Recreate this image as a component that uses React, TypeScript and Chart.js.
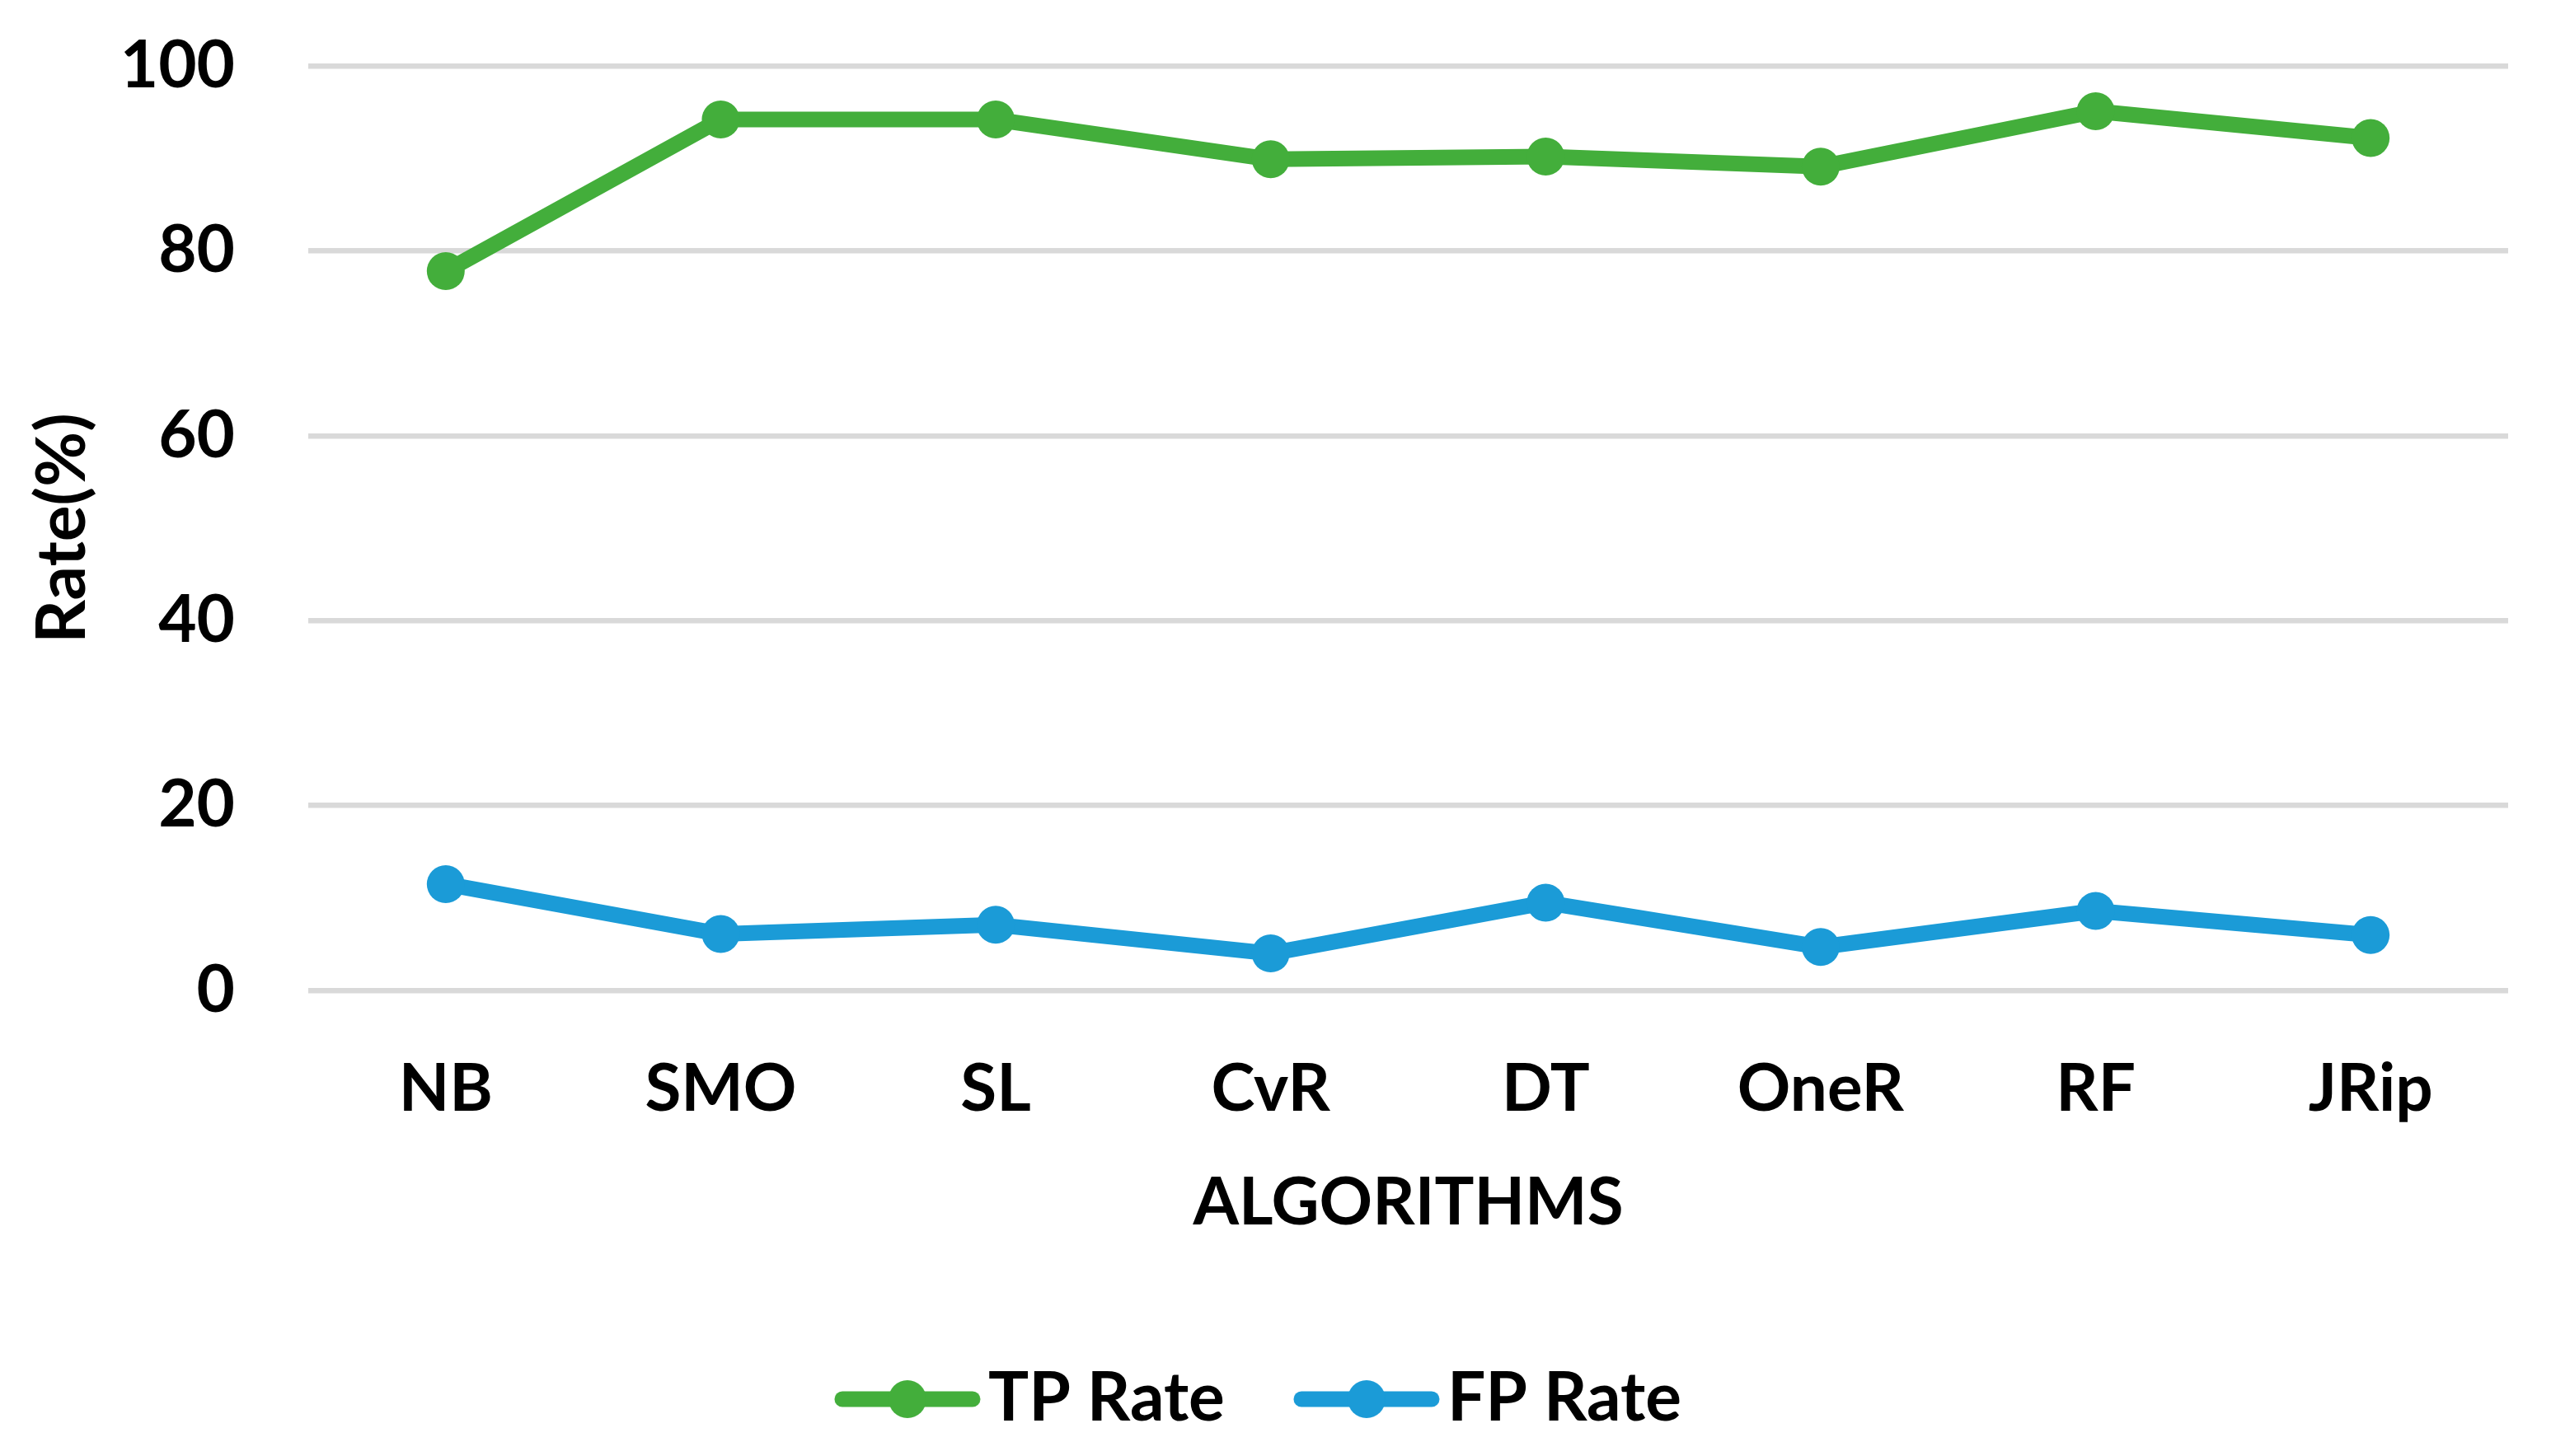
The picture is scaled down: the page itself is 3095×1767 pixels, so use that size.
import React, { useEffect, useRef } from "react";
import { Chart, registerables } from "chart.js";

Chart.register(...registerables);

const categories = ["NB", "SMO", "SL", "CvR", "DT", "OneR", "RF", "JRip"];
const tpRate = [77.8, 94.2, 94.2, 89.9, 90.2, 89.1, 95.1, 92.2];
const fpRate = [11.5, 6.1, 7.1, 4.0, 9.5, 4.7, 8.6, 6.0];
const seriesNames = ["TP Rate", "FP Rate"];
const yTicks = [0, 20, 40, 60, 80, 100];

const GREEN = "rgb(67,174,59)";
const BLUE = "rgb(27,155,215)";
const FONT = "Lato, 'Open Sans', sans-serif";

function legendImage(color: string): HTMLCanvasElement {
  const c = document.createElement("canvas");
  c.width = 178;
  c.height = 48;
  const ctx = c.getContext("2d")!;
  ctx.strokeStyle = color;
  ctx.lineWidth = 19;
  ctx.lineCap = "round";
  ctx.beginPath();
  ctx.moveTo(10, 24);
  ctx.lineTo(168, 24);
  ctx.stroke();
  ctx.fillStyle = color;
  ctx.beginPath();
  ctx.arc(89, 24, 23, 0, Math.PI * 2);
  ctx.fill();
  return c;
}

export default function App() {
  const ref = useRef<HTMLCanvasElement>(null);

  useEffect(() => {
    document.body.style.margin = "0";
    document.body.style.overflow = "hidden";
    const imgs = [legendImage(GREEN), legendImage(BLUE)];
    const chart = new Chart(ref.current!, {
      type: "line",
      data: {
        labels: categories,
        datasets: [
          {
            label: seriesNames[0],
            data: tpRate,
            borderColor: GREEN,
            backgroundColor: GREEN,
            borderWidth: 19,
            pointRadius: 23,
            pointBorderWidth: 0,
            pointBackgroundColor: GREEN,
            borderJoinStyle: "round",
            borderCapStyle: "round",
            tension: 0,
          },
          {
            label: seriesNames[1],
            data: fpRate,
            borderColor: BLUE,
            backgroundColor: BLUE,
            borderWidth: 19,
            pointRadius: 23,
            pointBorderWidth: 0,
            pointBackgroundColor: BLUE,
            borderJoinStyle: "round",
            borderCapStyle: "round",
            tension: 0,
          },
        ],
      },
      options: {
        responsive: false,
        animation: false,
        devicePixelRatio: 1,
        layout: { padding: { left: 41, right: 52, top: 80, bottom: 18 } },
        plugins: {
          tooltip: { enabled: false },
          legend: {
            position: "bottom",
            labels: {
              color: "#000",
              font: { family: FONT, size: 82, weight: "bold" },
              usePointStyle: true,
              pointStyleWidth: 114,
              padding: 115,
              generateLabels: (ch: any) =>
                ch.data.datasets.map((ds: any, i: number) => ({
                  text: ds.label,
                  fillStyle: ds.borderColor,
                  strokeStyle: ds.borderColor,
                  lineWidth: 0,
                  pointStyle: imgs[i],
                  hidden: false,
                  datasetIndex: i,
                  fontColor: "#000",
                })),
            },
          },
        },
        scales: {
          x: {
            offset: true,
            grid: { display: false },
            border: { display: false },
            ticks: {
              color: "#000",
              padding: 64,
              font: { family: FONT, size: 80, weight: "bold" },
            },
            title: {
              display: true,
              text: "ALGORITHMS",
              color: "#000",
              padding: { top: -22, bottom: 34 },
              font: { family: FONT, size: 80, weight: "bold" },
            },
          },
          y: {
            min: 0,
            max: 100,
            afterBuildTicks: (s: any) => {
              s.ticks = yTicks.map((v) => ({ value: v }));
            },
            afterFit: (s: any) => {
              s.width = 333;
              s.paddingTop = 0;
              s.paddingBottom = 0;
            },
            grid: { color: "#D9D9D9", lineWidth: 6.5, drawTicks: false },
            border: { display: false },
            ticks: {
              color: "#000",
              padding: 89,
              font: { family: FONT, size: 80, weight: "bold" },
            },
            title: {
              display: true,
              text: "Rate(%)",
              color: "#000",
              padding: { top: -14, bottom: 0 },
              font: { family: FONT, size: 82, weight: "bold" },
            },
          },
        },
      },
    });
    return () => chart.destroy();
  }, []);

  return (
    <div style={{ position: "absolute", left: 0, top: 0, width: 3095, height: 1767, background: "#fff" }}>
      <canvas ref={ref} width={3095} height={1767} />
    </div>
  );
}
